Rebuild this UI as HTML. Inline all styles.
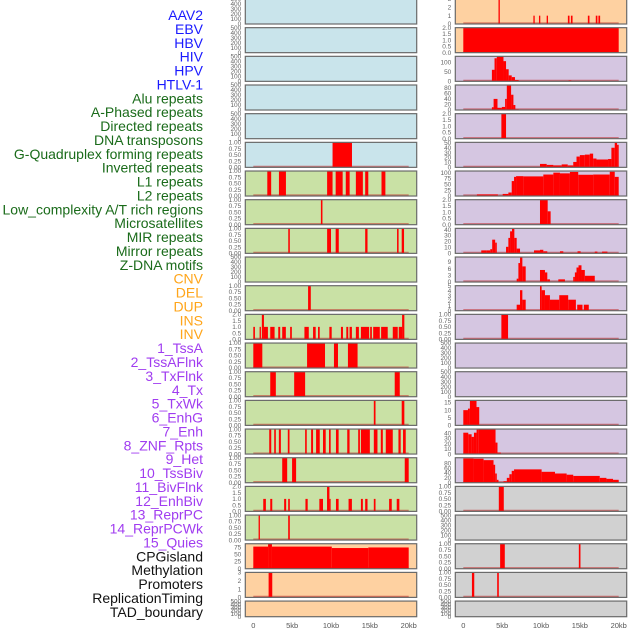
<!DOCTYPE html>
<html><head><meta charset="utf-8">
<style>
html,body{margin:0;padding:0;background:#fff;}
svg{display:block;font-family:"Liberation Sans",sans-serif;}
</style></head>
<body>
<svg id="fig" width="630" height="630" viewBox="0 0 630 630"></svg>
<script>
const NS="http://www.w3.org/2000/svg";
const labelNames=["AAV2","EBV","HBV","HIV","HPV","HTLV-1","Alu repeats","A-Phased repeats","Directed repeats","DNA transposons","G-Quadruplex forming repeats","Inverted repeats","L1 repeats","L2 repeats","Low_complexity A/T rich regions","Microsatellites","MIR repeats","Mirror repeats","Z-DNA motifs","CNV","DEL","DUP","INS","INV","1_TssA","2_TssAFlnk","3_TxFlnk","4_Tx","5_TxWk","6_EnhG","7_Enh","8_ZNF_Rpts","9_Het","10_TssBiv","11_BivFlnk","12_EnhBiv","13_ReprPC","14_ReprPCWk","15_Quies","CPGisland","Methylation","Promoters","ReplicationTiming","TAD_boundary"];
const labelColors=["#1a1aff","#1a1aff","#1a1aff","#1a1aff","#1a1aff","#1a1aff","#1a6b1a","#1a6b1a","#1a6b1a","#1a6b1a","#1a6b1a","#1a6b1a","#1a6b1a","#1a6b1a","#1a6b1a","#1a6b1a","#1a6b1a","#1a6b1a","#1a6b1a","#ffa51a","#ffa51a","#ffa51a","#ffa51a","#ffa51a","#a03cf0","#a03cf0","#a03cf0","#a03cf0","#a03cf0","#a03cf0","#a03cf0","#a03cf0","#a03cf0","#a03cf0","#a03cf0","#a03cf0","#a03cf0","#a03cf0","#a03cf0","#111","#111","#111","#111","#111"];
const trackBg=["b","b","b","b","b","b","g","g","g","g","g","g","g","g","g","g","g","g","g","o","o","o","o","o","p","p","p","p","p","p","p","p","p","p","p","p","p","p","p","y","y","y","y","y"];
const T500=["0","100","200","300","400","500"];
const T1=["0.00","0.25","0.50","0.75","1.00"];
const T2=["0.0","0.5","1.0","1.5","2.0"];
const trackYMax=[500,500,500,500,500,1,1,1,1,500,1,2,1,1,1,1,1,2,1,87,3,500,3,2,130,90,2,51,107,2,42,11.2,5,1,500,500,16.4,48,103,1,500,1,1,500];
const trackTicks=[T500,T500,T500,T500,T500,T1,T1,T1,T1,T500,T1,T2,T1,T1,T1,T1,T1,T2,T1,["0","25","50","75"],["0","1","2","3"],T500,["0","1","2","3"],T2,["0","50","100"],["0","20","40","60","80"],T2,["0","10","20","30","40","50"],["0","25","50","75","100"],T2,["0","10","20","30","40"],["0","3","6","9"],["0","1","2","3","4","5"],T1,T500,T500,["0","5","10","15"],["0","10","20","30","40"],["0","20","40","60","80"],T1,T500,T1,T1,T500];
const trackBars=[
[],[],[],[],[],
[[10.2,12.7,1]],
[[1.8,2.3,1],[3.3,4.2,1],[9.5,10.2,1],[10.6,11.5,1],[11.9,12.4,1],[13.2,14.1,1],[14.4,14.8,1],[16.5,17.0,1]],
[[8.7,8.9,1]],
[[4.5,4.7,1],[9.5,10.0,1],[10.6,11.0,1],[14.4,14.7,1],[18.5,18.7,1],[19.1,19.4,1]],
[],
[[7.05,7.4,1]],
[[0,0.21,1],[0.81,0.98,1],[1.1,1.37,2],[1.37,1.88,1],[2.18,2.74,1],[3.21,3.46,1],[3.72,4.19,1],[4.74,4.96,1],[6.58,7.14,1],[7.69,8.03,1],[8.33,8.55,1],[9.79,10.09,1],[11.28,11.54,1],[11.97,12.22,1],[12.39,12.69,1],[13.2,13.59,1],[13.85,14.91,1],[15.04,15.26,1],[15.43,16.28,1],[16.45,17.3,1],[17.95,18.59,1],[18.72,19.15,1],[19.15,19.44,2]],
[[0,1.16,1],[6.92,9.23,1],[10.38,10.9,1],[12.18,13.42,1]],
[[2.18,2.9,1],[5.26,6.67,1],[18.2,18.85,1]],
[[15.51,15.73,1],[19.1,19.44,1]],
[[2.05,2.31,1],[2.69,2.9,1],[3.29,3.55,1],[4.44,4.66,1],[6.67,6.88,1],[7.44,7.69,1],[8.08,8.55,1],[8.97,9.32,1],[9.74,9.96,1],[10.64,10.98,1],[12.09,12.39,1],[13.5,13.72,1],[13.85,15.0,1],[15.51,15.98,1],[16.41,16.67,1],[17.05,17.95,1],[18.68,18.97,1],[19.27,19.62,1]],
[[3.72,4.36,1],[4.99,5.51,1],[19.49,20.0,1]],
[[1.28,1.62,1],[2.18,2.44,1],[3.97,4.23,1],[4.49,4.7,1],[6.71,7.0,1],[8.5,8.97,1],[9.49,9.8,2],[9.8,9.87,1],[10.64,10.98,1],[12.26,12.69,1],[13.85,14.1,1],[14.4,14.7,1],[15.51,15.73,1],[17.48,17.82,1],[18.46,18.8,1]],
[[0.68,0.85,1],[4.49,4.7,1]],
[[0,1.9,77],[1.9,2.4,87],[2.4,10.1,77],[10.1,14.8,72],[14.8,20.0,74]],
[[1.97,2.44,3]],
[],
[[4.53,4.7,3],[9.02,9.19,1],[9.74,9.91,1],[10.73,10.9,1],[13.46,13.67,1],[13.85,14.06,1],[16.03,16.24,1],[17.05,17.26,1],[17.39,17.61,1]],
[[0,20,2]],
[[3.68,4.02,60],[4.02,4.31,120],[4.31,5.17,130],[5.17,5.5,105],[5.5,5.84,63],[5.84,6.23,31],[6.23,6.65,22],[6.65,7.12,7],[13.55,13.9,5]],
[[3.68,3.9,10],[3.9,4.4,40],[4.4,4.96,8],[4.96,5.38,11],[5.38,5.6,40],[5.6,6.15,88],[6.15,6.45,55],[6.45,6.7,18],[6.7,7.12,3]],
[[4.9,5.5,2]],
[[9.87,10.73,7],[10.73,11.59,5],[11.59,12.66,4],[12.66,13.44,6],[13.44,14.15,4],[14.15,14.57,11],[14.57,15.0,22],[15.0,15.64,25],[15.64,16.28,26],[16.28,16.71,28],[16.71,17.14,18],[17.14,18.63,16],[18.63,19.06,17],[19.06,19.49,40],[19.49,19.79,50],[19.79,20.0,46]],
[[1.75,4.45,7],[5.07,5.8,9],[5.8,6.23,15],[6.23,6.53,64],[6.53,6.79,82],[6.79,7.73,85],[7.73,10.3,84],[10.3,11.59,92],[11.59,12.44,100],[12.44,13.72,97],[13.72,14.79,103],[14.79,16.71,91],[16.71,18.85,92],[18.85,19.49,104],[19.49,20.0,82]],
[[9.87,10.86,2],[10.86,11.24,1.07]],
[[2.31,3.03,5],[3.03,3.47,5],[3.47,3.72,7],[3.72,4.1,23],[4.1,4.31,18],[5.5,5.8,11],[5.8,6.02,26],[6.02,6.27,37],[6.27,6.57,41],[6.57,6.87,26],[6.87,7.3,8],[9.1,9.87,5],[9.87,10.3,6],[10.3,10.81,3.5],[12.44,12.87,3.5],[14.7,15.1,3.5],[16.92,17.26,3],[17.86,18.55,3]],
[[6.87,7.09,1.5],[7.09,7.3,8.5],[7.3,7.6,11],[7.6,8.03,7],[9.87,10.51,5.4],[10.51,10.81,4.3],[10.81,11.15,1.2],[12.23,13.08,1.2],[14.15,14.36,2.3],[14.36,14.57,4.3],[14.57,14.83,6.5],[14.83,15.21,7.5],[15.21,15.64,5.4],[15.64,16.92,2.8]],
[[6.87,7.3,1.2],[7.3,7.6,4.1],[7.6,8.03,2.2],[9.87,10.08,5],[10.08,10.51,4.1],[10.51,11.15,3.1],[11.15,12.35,2.2],[12.35,13.5,3.1],[13.5,14.49,2.2],[14.66,15.34,1.2],[15.51,16.15,1.2]],
[[4.9,5.76,1]],
[],[],
[[0,0.6,10],[0.6,0.85,11],[0.85,1.7,16],[1.7,2.05,12]],
[[0,0.64,41],[0.64,1.07,38],[1.07,1.37,33],[1.37,1.71,41],[1.71,1.92,47],[1.92,4.15,48],[4.15,4.4,22],[4.4,4.83,3]],
[[0,1.32,100],[1.32,2.61,99],[2.61,3.89,93],[3.89,4.1,74],[4.1,4.31,38],[4.31,4.53,12],[5.17,5.6,6],[5.6,5.93,20],[5.93,6.23,35],[6.23,6.53,49],[6.53,10.08,55],[10.08,11.8,45],[11.8,13.3,38],[13.3,14.15,33],[14.15,17.56,28],[17.56,18.42,20],[18.42,19.27,16],[19.27,20.0,12]],
[[4.57,5.21,1]],
[],
[[4.74,5.34,1],[14.87,15.08,1]],
[[1.11,1.41,1],[4.36,4.57,1]],
[]
];
const xTickVals=[0,5,10,15,20];
const xTickLabels=["0","5kb","10kb","15kb","20kb"];

const bgColors={b:"#c9e4eb",g:"#c9e1a5",o:"#fed1a1",p:"#d5c6e1",y:"#d1d1d1"};
const svg=document.getElementById('fig');
function mk(tag,attrs,parent){const e=document.createElementNS(NS,tag);for(const k in attrs)e.setAttribute(k,attrs[k]);(parent||svg).appendChild(e);return e;}
const colX=[245.3,455.3], panelW=171.4, pitch=28.67, top0=-1, panelH=25;
const kbMin=-1.03, kbMax=21.03;
function xScale(col,kb){return colX[col]+(kb-kbMin)/(kbMax-kbMin)*panelW;}

// labels
labelNames.forEach((nm,i)=>{
  const t=mk('text',{x:203,y:15+i*13.88+5,'text-anchor':'end','font-size':'14',fill:labelColors[i]});
  t.textContent=nm;
  
  
});

labelNames.forEach((nm,i)=>{
  const col=i<22?0:1, row=i%22;
  const top=top0+row*pitch;
  const bottom=row===21?616.7:top+panelH;
  const h=bottom-top;
  const g=mk('g',{});
  
  
  mk('rect',{x:colX[col],y:top,width:panelW,height:h,fill:bgColors[trackBg[i]]},g);
  const ymax=trackYMax[i];
  const yS=v=>bottom-v/ymax*h;
  const bars=trackBars[i];
  if(bars.length){
    mk('line',{x1:xScale(col,0),x2:xScale(col,20),y1:bottom-0.8,y2:bottom-0.8,stroke:'rgba(190,30,30,0.55)','stroke-width':1.6},g);
  }
  bars.forEach(b=>{
    const x1=xScale(col,b[0]),x2=xScale(col,b[1]);
    const r=mk('rect',{x:x1,y:yS(b[2]),width:Math.max(1.2,x2-x1),height:bottom-yS(b[2]),fill:'#ff0000'},g);
    
    
  });
  mk('rect',{x:colX[col],y:top,width:panelW,height:h,fill:'none',stroke:'#6a6a6a','stroke-width':1.2},g);
  // y ticks
  const ticks=trackTicks[i];
  ticks.forEach(lbl=>{
    const v=parseFloat(lbl);
    let y=yS(v);
    const t=mk('text',{x:colX[col]-4,y:y+2.2,'text-anchor':'end','font-size':'6.5',fill:'#666'},g);
    t.textContent=lbl;
    
    
  });
});

// x ticks
[0,1].forEach(col=>{
  xTickVals.forEach((v,j)=>{
    const t=mk('text',{x:xScale(col,v),y:628,'text-anchor':'middle','font-size':'7.5',fill:'#555'});
    t.textContent=xTickLabels[j];
    
    
  });
});
</script>
</body></html>
